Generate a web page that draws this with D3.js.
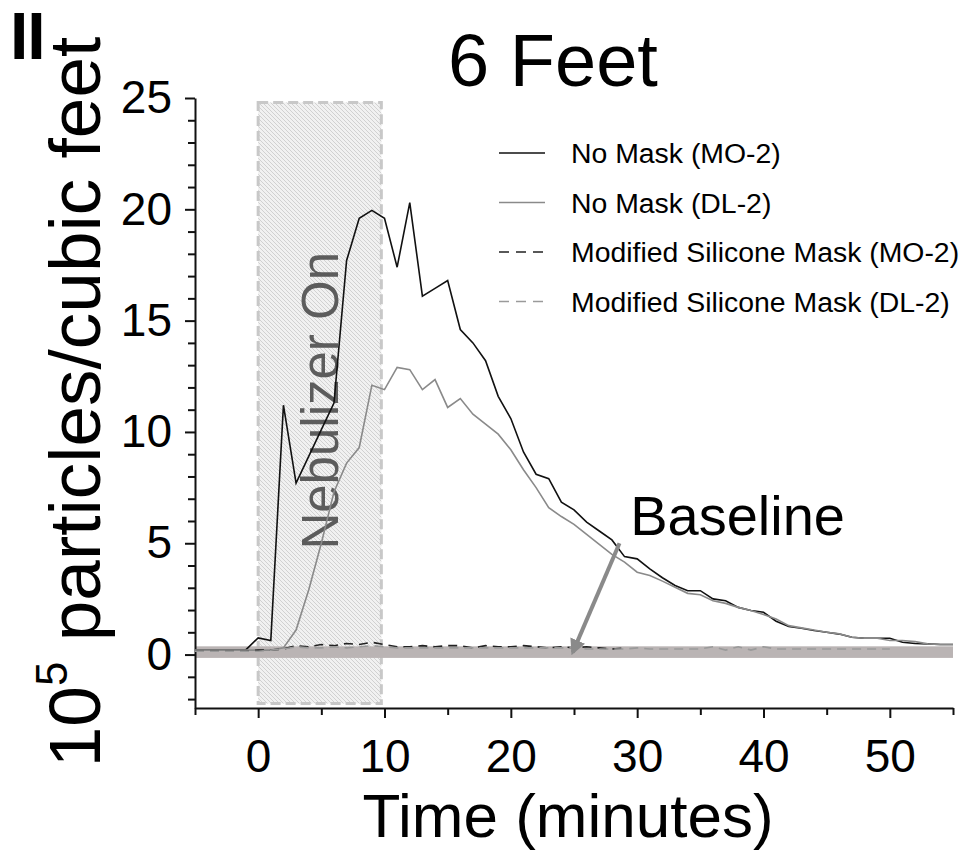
<!DOCTYPE html>
<html>
<head>
<meta charset="utf-8">
<script src="https://cdn.jsdelivr.net/npm/d3@7"></script>
<style>
body{margin:0;background:#fff}
svg{display:block;font-family:"Liberation Sans",Arial,Helvetica,sans-serif}
</style>
</head>
<body>
<svg id="chart" width="962" height="853"></svg>
<script>
// time in minutes, one reading per minute
var times = d3.range(-5, 56);
var noMaskMO = [0.2,0.2,0.2,0.2,0.2,0.75,0.63,11.2,7.7,8.9,10.1,11.3,17.7,19.6,19.95,19.6,17.4,20.3,16.1,16.45,16.8,14.6,14.0,13.2,11.6,10.6,9.1,8.1,7.9,6.85,6.5,5.95,5.55,5.15,4.4,4.3,3.85,3.45,3.1,2.87,2.87,2.5,2.42,2.12,1.98,1.9,1.5,1.26,1.18,1.08,1.0,0.92,0.78,0.73,0.73,0.73,0.55,0.5,0.48,0.45,0.45];
var noMaskDL = [0.2,0.2,0.2,0.2,0.2,0.2,0.2,0.3,1.1,2.9,5.0,7.3,8.6,9.3,12.1,11.9,12.9,12.8,11.9,12.35,11.1,11.5,10.8,10.35,9.9,9.2,8.3,7.5,6.6,6.2,5.85,5.4,4.95,4.5,4.15,3.7,3.55,3.3,3.02,2.75,2.69,2.42,2.3,2.12,1.98,1.8,1.6,1.3,1.2,1.1,1.0,0.93,0.78,0.73,0.73,0.63,0.63,0.58,0.48,0.45,0.45];
// masked runs (end earlier than the unmasked ones)
var maskMO = [0.15,0.15,0.15,0.15,0.15,0.2,0.2,0.25,0.4,0.35,0.45,0.4,0.5,0.45,0.55,0.45,0.35,0.35,0.4,0.35,0.4,0.4,0.3,0.4,0.35,0.35,0.4,0.35,0.3,0.35,0.3,0.35,0.3,0.25,0.3];
var maskDL = [0.15,0.15,0.15,0.15,0.15,0.15,0.2,0.25,0.35,0.3,0.3,0.35,0.3,0.35,0.4,0.35,0.3,0.3,0.3,0.3,0.3,0.3,0.3,0.3,0.3,0.3,0.3,0.3,0.3,0.3,0.3,0.25,0.25,0.25,0.25,0.3,0.25,0.25,0.25,0.25,0.25,0.35,0.2,0.35,0.2,0.35,0.25,0.25,0.25,0.25,0.25,0.25,0.25,0.25,0.25,0.25];

var xMajor = [0,10,20,30,40,50];
var xMinor = [-5,5,15,25,35,45,55];
var yMajor = [0,5,10,15,20,25];
var yMinor = d3.range(-2,26).filter(function(d){ return d % 5 != 0; });

var legendNames = ["No Mask (MO-2)","No Mask (DL-2)","Modified Silicone Mask (MO-2)","Modified Silicone Mask (DL-2)"];
var nebulizer = [0, 9.75];     // minutes
var nebulizerRange = [-2.2, 24.8];
var baselineBand = [-0.15, 0.37];
var baselineArrow = [[28.6, 5.0], [24.9, 0.1]];

var svg = d3.select("#chart");

var x = d3.scaleLinear().domain([-5,55]).range([195,953]);
var y = d3.scaleLinear().domain([-2.4,25]).range([708,98]);

var series = [
  {vals: noMaskMO, color:"#111", dash:null},
  {vals: noMaskDL, color:"#8a8a8a", dash:null},
  {vals: maskMO, color:"#222", dash:"9,6"},
  {vals: maskDL, color:"#9a9a9a", dash:"9,6"}
];

// hatch for the nebulizer box
var defs = svg.append("defs");
var pat = defs.append("pattern")
    .attr("id","hatch")
    .attr("patternUnits","userSpaceOnUse")
    .attr("width",4)
    .attr("height",4);
pat.append("rect").attr("width",4).attr("height",4).attr("fill","#f1f1f1");
pat.append("path")
    .attr("d","M-1,-1 L5,5 M-1,3 L1,5 M3,-1 L5,1")
    .attr("stroke","#c9c9c9")
    .attr("stroke-width",0.8);

svg.append("rect")
    .attr("x",x(nebulizer[0]))
    .attr("y",y(nebulizerRange[1]))
    .attr("width",x(nebulizer[1])-x(nebulizer[0]))
    .attr("height",y(nebulizerRange[0])-y(nebulizerRange[1]))
    .attr("fill","url(#hatch)")
    .attr("stroke","#c8c8c8")
    .attr("stroke-width",3)
    .attr("stroke-dasharray","10,5");

svg.append("text")
    .attr("transform","translate(" + (x(6.3)) + "," + (y(11.4)) + ") rotate(-90)")
    .attr("text-anchor","middle")
    .attr("font-size",51)
    .attr("fill","#5c5c5c")
    .text("Nebulizer On");

// baseline band
svg.append("rect")
    .attr("x",x(-5))
    .attr("y",y(baselineBand[1]))
    .attr("width",x(55)-x(-5))
    .attr("height",y(baselineBand[0])-y(baselineBand[1]))
    .attr("fill","#bab4b4");

// axes
svg.append("g").attr("transform","translate(0," + y(-2.4) + ")")
    .call(d3.axisBottom(x).tickValues(xMajor).tickSize(10).tickSizeOuter(0).tickPadding(21).tickFormat(d3.format("d")));
svg.append("g").attr("transform","translate(0," + y(-2.4) + ")")
    .call(d3.axisBottom(x).tickValues(xMinor).tickSize(7).tickSizeOuter(0).tickFormat(""))
    .select(".domain").remove();
svg.append("g").attr("transform","translate(" + x(-5) + ",0)")
    .call(d3.axisLeft(y).tickValues(yMajor).tickSize(10).tickSizeOuter(0).tickPadding(13).tickFormat(d3.format("d")));
svg.append("g").attr("transform","translate(" + x(-5) + ",0)")
    .call(d3.axisLeft(y).tickValues(yMinor).tickSize(7).tickSizeOuter(0).tickFormat(""))
    .select(".domain").remove();

svg.selectAll(".domain").attr("stroke","#111").attr("stroke-width",2);
svg.selectAll(".tick line").attr("stroke","#111").attr("stroke-width",2);
svg.selectAll(".tick text").attr("font-size",46).attr("fill","#000").attr("font-family",null);

// data lines
var line = d3.line()
    .x(function(d){ return x(d[0]); })
    .y(function(d){ return y(d[1]); });

series.forEach(function(s){
  var pts = s.vals.map(function(v,i){ return [times[i], v]; });
  svg.append("path")
      .datum(pts)
      .attr("d",line)
      .attr("fill","none")
      .attr("stroke",s.color)
      .attr("stroke-width",1.6)
      .attr("stroke-dasharray",s.dash);
});

// baseline arrow
defs.append("marker")
    .attr("id","head")
    .attr("viewBox","0 0 10 10")
    .attr("refX",8).attr("refY",5)
    .attr("markerWidth",4).attr("markerHeight",4)
    .attr("orient","auto")
  .append("path")
    .attr("d","M0,0 L10,5 L0,10 z")
    .attr("fill","#8a8a8a");

svg.append("line")
    .attr("x1",x(baselineArrow[0][0])).attr("y1",y(baselineArrow[0][1]))
    .attr("x2",x(baselineArrow[1][0])).attr("y2",y(baselineArrow[1][1]))
    .attr("stroke","#8a8a8a")
    .attr("stroke-width",4)
    .attr("marker-end","url(#head)");

svg.append("text")
    .attr("x",x(29.45))
    .attr("y",y(5.35))
    .attr("font-size",56)
    .text("Baseline");

// legend
var leg = svg.append("g");
legendNames.forEach(function(name,i){
  var s = series[i];
  var ly = 153 + i*49.5;
  leg.append("line")
      .attr("x1",499).attr("x2",545)
      .attr("y1",ly).attr("y2",ly)
      .attr("stroke",s.color)
      .attr("stroke-width",1.6)
      .attr("stroke-dasharray",s.dash ? "10,7" : null);
  leg.append("text")
      .attr("x",571)
      .attr("y",ly+10)
      .attr("font-size",28.4)
      .text(name);
});

// titles
svg.append("text")
    .attr("x",553)
    .attr("y",86)
    .attr("text-anchor","middle")
    .attr("font-size",74)
    .text("6 Feet");

svg.append("text")
    .attr("x",10)
    .attr("y",59)
    .attr("font-size",66)
    .attr("font-weight","bold")
    .attr("letter-spacing",-1)
    .text("II");

svg.append("text")
    .attr("x",568)
    .attr("y",837)
    .attr("text-anchor","middle")
    .attr("font-size",62)
    .text("Time (minutes)");

var yl = svg.append("text")
    .attr("transform","translate(100,402) rotate(-90)")
    .attr("text-anchor","middle")
    .attr("font-size",73);
yl.append("tspan").text("10");
yl.append("tspan").attr("font-size",44).attr("dy",-33).text("5");
yl.append("tspan").attr("dy",33).text(" particles/cubic feet");
</script>
</body>
</html>
